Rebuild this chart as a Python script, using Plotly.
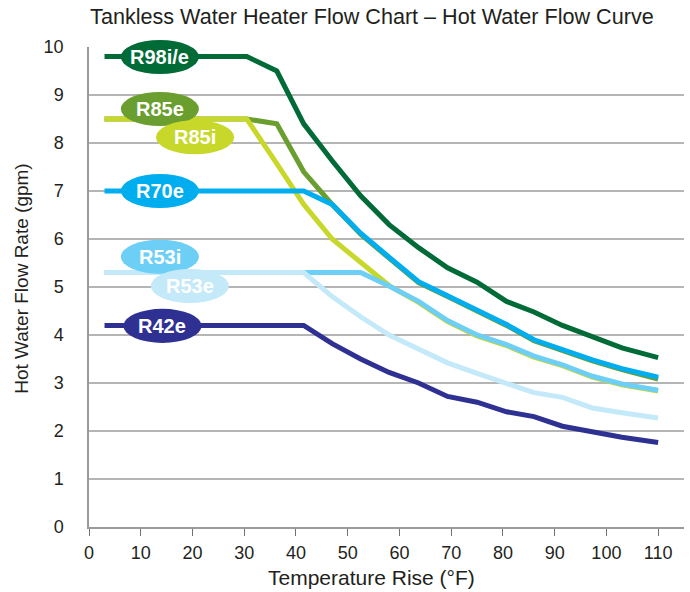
import plotly.graph_objects as go

# ---------------- data ----------------
x_r98 = [3, 30.5, 36.3, 41.5, 47, 52.5, 58, 63.7, 69.3, 75, 80.7, 86, 91.5, 97.3, 103, 110]
y_r98 = [9.8, 9.8, 9.5, 8.4, 7.63, 6.9, 6.3, 5.82, 5.4, 5.1, 4.7, 4.48, 4.2, 3.96, 3.73, 3.53]

x_r85e = [3, 30.5, 36.3, 41.5, 47, 52.5, 58, 63.7, 69.3, 75, 80.7, 86, 91.5, 97.3, 103, 110]
y_r85e = [8.5, 8.5, 8.4, 7.4, 6.72, 6.1, 5.6, 5.09, 4.8, 4.5, 4.2, 3.88, 3.67, 3.46, 3.28, 3.08]

x_r85i = [3, 30.5, 36.3, 41.5, 47, 52.5, 58, 63.7, 69.3, 75, 80.7, 86, 91.5, 97.3, 103, 110]
y_r85i = [8.5, 8.5, 7.57, 6.72, 6.0, 5.52, 5.03, 4.68, 4.28, 3.98, 3.78, 3.54, 3.36, 3.12, 2.96, 2.83]

x_r70e = [3, 41.5, 47, 52.5, 58, 63.7, 69.3, 75, 80.7, 86, 91.5, 97.3, 103, 110]
y_r70e = [7.0, 7.0, 6.72, 6.12, 5.62, 5.11, 4.82, 4.52, 4.22, 3.9, 3.69, 3.48, 3.3, 3.12]

x_r53i = [3, 52.5, 58, 63.7, 69.3, 75, 80.7, 86, 91.5, 97.3, 103, 110]
y_r53i = [5.3, 5.3, 5.02, 4.7, 4.3, 4.0, 3.8, 3.56, 3.38, 3.14, 2.98, 2.85]

x_r53e = [3, 41.5, 47, 52.5, 58, 63.7, 69.3, 75, 80.7, 86, 91.5, 97.3, 103, 110]
y_r53e = [5.3, 5.3, 4.8, 4.38, 4.0, 3.72, 3.42, 3.2, 3.0, 2.8, 2.7, 2.48, 2.38, 2.27]

x_r42e = [3, 41.5, 47, 52.5, 58, 63.7, 69.3, 75, 80.7, 86, 91.5, 97.3, 103, 110]
y_r42e = [4.2, 4.2, 3.82, 3.5, 3.22, 3.0, 2.72, 2.6, 2.4, 2.3, 2.1, 1.98, 1.87, 1.76]

x_ticks = [0, 10, 20, 30, 40, 50, 60, 70, 80, 90, 100, 110]
y_ticks = [0, 1, 2, 3, 4, 5, 6, 7, 8, 9, 10]

# ---------------- styles ----------------
FONT = "Liberation Sans, Arial, sans-serif"
TXT = "#231f20"
X_RANGE = [0, 115]
Y_RANGE = [0, 10]

series = [
    # name, x, y, color   (drawing order: first = bottom)
    ("R85e", x_r85e, y_r85e, "#6a9e2f"),
    ("R85i", x_r85i, y_r85i, "#c8d82a"),
    ("R70e", x_r70e, y_r70e, "#00aeef"),
    ("R53i", x_r53i, y_r53i, "#6dcff6"),
    ("R53e", x_r53e, y_r53e, "#c4e9f9"),
    ("R42e", x_r42e, y_r42e, "#2e3192"),
    ("R98i/e", x_r98, y_r98, "#006b37"),
]

# label badges: text, center x (data), center y (data), color
badges = [
    ("R98i/e", 13.7, 9.79, "#006b37"),
    ("R85e", 13.7, 8.71, "#6a9e2f"),
    ("R85i", 20.5, 8.12, "#c8d82a"),
    ("R70e", 13.7, 7.0, "#00aeef"),
    ("R53i", 13.7, 5.63, "#6dcff6"),
    ("R53e", 19.5, 5.02, "#c4e9f9"),
    ("R42e", 14.2, 4.19, "#2e3192"),
]
BADGE_HW = 7.55      # half width in x units
BADGE_HH = 0.355     # half height in y units

fig = go.Figure()
for name, xs, ys, col in series:
    fig.add_trace(go.Scatter(x=xs, y=ys, mode="lines", name=name,
                             line=dict(color=col, width=5), showlegend=False,
                             hoverinfo="skip"))

def to_paper(v):
    return (v - Y_RANGE[0]) / (Y_RANGE[1] - Y_RANGE[0])

shapes = []
annotations = []
for text, cx, cy, col in badges:
    shapes.append(dict(type="circle", xref="x", yref="paper",
                       x0=cx - BADGE_HW, x1=cx + BADGE_HW,
                       y0=to_paper(cy - BADGE_HH), y1=to_paper(cy + BADGE_HH),
                       fillcolor=col, line=dict(width=0), layer="above"))
    annotations.append(dict(x=cx, y=to_paper(cy), xref="x", yref="paper",
                            text="<b>%s</b>" % text, showarrow=False,
                            font=dict(family=FONT, size=20, color="white"),
                            xanchor="center", yanchor="middle"))

# axis titles (placed as annotations to match the original offsets)
annotations.append(dict(text="Temperature Rise (°F)", xref="paper", yref="paper",
                        x=0.474, y=-0.106, xanchor="center", yanchor="middle",
                        showarrow=False, font=dict(family=FONT, size=21, color=TXT)))
annotations.append(dict(text="Hot Water Flow Rate (gpm)", xref="paper", yref="paper",
                        x=-0.1126, y=0.517, xanchor="center", yanchor="middle",
                        textangle=-90, showarrow=False,
                        font=dict(family="Liberation Sans Narrow, " + FONT, size=19, color=TXT)))

fig.update_layout(
    width=690, height=592,
    margin=dict(l=89, r=6, t=47, b=65),
    paper_bgcolor="white", plot_bgcolor="white",
    font=dict(family=FONT, color=TXT),
    title=dict(text="Tankless Water Heater Flow Chart – Hot Water Flow Curve",
               x=0.539, xanchor="center", y=0.973, yanchor="middle",
               font=dict(family=FONT, size=21.6, color=TXT)),
    shapes=shapes, annotations=annotations,
)

fig.update_xaxes(range=X_RANGE, tickvals=x_ticks, showgrid=False, zeroline=False,
                 showline=True, linecolor="#9a9a9a", linewidth=1.5,
                 ticks="outside", ticklen=7, tickwidth=1.2, tickcolor="#707070",
                 ticklabelstandoff=2,
                 tickfont=dict(family=FONT, size=18, color=TXT))
fig.update_yaxes(range=Y_RANGE, tickvals=y_ticks, showgrid=True, gridcolor="#b5b5b5",
                 gridwidth=1.5, zeroline=False,
                 showline=True, linecolor="#9a9a9a", linewidth=1.5,
                 ticks="outside", ticklen=20, tickcolor="rgba(0,0,0,0)",
                 tickfont=dict(family=FONT, size=18, color=TXT))

fig.write_html("out.html", config={"displayModeBar": False},
               post_script="document.body.style.margin='0';")
